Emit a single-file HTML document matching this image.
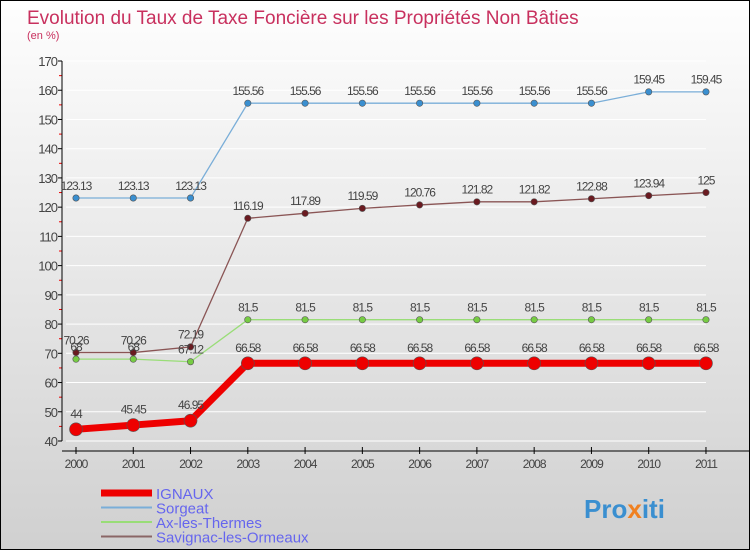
<!DOCTYPE html>
<html><head><meta charset="utf-8"><style>
body{margin:0;width:750px;height:550px;overflow:hidden;font-family:"Liberation Sans",sans-serif}
#c{position:absolute;left:0;top:0;width:748px;height:548px;border:1px solid #000;background:linear-gradient(#fefefe,#d0d0d0)}
</style></head><body>
<div id="c">
<svg width="748" height="548" style="position:absolute;left:0;top:0">
<text x="26" y="23" font-size="19" fill="#c8305e">Evolution du Taux de Taxe Foncière sur les Propriétés Non Bâties</text>
<text x="26" y="38" font-size="11" fill="#c8305e">(en %)</text>
<g id="axes"></g><g id="series"></g><g id="legend"></g>
<text x="583" y="517" font-size="26" font-weight="bold" fill="#3a8fd0">Pro<tspan fill="#f08020">x</tspan>iti</text>
</svg></div>
<script>
const years=["2000","2001","2002","2003","2004","2005","2006","2007","2008","2009","2010","2011"];
const yTicks=[40,50,60,70,80,90,100,110,120,130,140,150,160,170];
const ignaux=[44,45.45,46.95,66.58,66.58,66.58,66.58,66.58,66.58,66.58,66.58,66.58];
const sorgeat=[123.13,123.13,123.13,155.56,155.56,155.56,155.56,155.56,155.56,155.56,159.45,159.45];
const ax=[68,68,67.12,81.5,81.5,81.5,81.5,81.5,81.5,81.5,81.5,81.5];
const savignac=[70.26,70.26,72.19,116.19,117.89,119.59,120.76,121.82,121.82,122.88,123.94,125];
const NS="http://www.w3.org/2000/svg";
const X=i=>75+i*57.27, Y=v=>440-(v-40)*(380/130);
function mk(t,a,p){const e=document.createElementNS(NS,t);for(const k in a)e.setAttribute(k,a[k]);p.appendChild(e);return e;}
const axes=document.getElementById('axes');
yTicks.forEach(v=>{const y=Y(v);
 const g=mk('line',{x1:65,x2:705,y1:y,y2:y,stroke:'#fff','stroke-width':1},axes);
 
 mk('line',{x1:57,x2:61,y1:y,y2:y,stroke:'#000'},axes);
 if(v<170)mk('line',{x1:58,x2:61,y1:y-14.6,y2:y-14.6,stroke:'#e00'},axes);
 const t=mk('text',{x:56,y:y+5,'text-anchor':'end','font-size':13,fill:'#444','letter-spacing':'-1'},axes);t.textContent=v;
 });
mk('line',{x1:61,x2:61,y1:60,y2:440,stroke:'#000'},axes);
mk('line',{x1:61,x2:748,y1:450,y2:450,stroke:'#000'},axes);
years.forEach((yr,i)=>{mk('line',{x1:X(i),x2:X(i),y1:446,y2:453,stroke:'#000'},axes);
 const t=mk('text',{x:X(i),y:467,'text-anchor':'middle','font-size':12,fill:'#444','letter-spacing':'-1'},axes);t.textContent=yr;
 });
const ser=document.getElementById('series');
function draw(name,d,col,dot,w,r){
 const g=mk('g',{},ser);
 mk('polyline',{points:d.map((v,i)=>X(i)+','+Y(v)).join(' '),fill:'none',stroke:col,'stroke-width':w},g);
 d.forEach((v,i)=>{const c=mk('circle',{cx:X(i),cy:Y(v),r:r,fill:dot,stroke:'#555','stroke-width':0.6},g);
 
 const t=mk('text',{x:X(i),y:Y(v)-r-5,'text-anchor':'middle','font-size':12,fill:'#444','letter-spacing':'-1'},g);t.textContent=v;});}
draw('sorgeat',sorgeat,'#7aaed8','#3a8fd0',1.3,3.2);
draw('savignac',savignac,'#8a5555','#6a1a20',1.3,3.2);
draw('ax-les-thermes',ax,'#99dd77','#77cc44',1.3,3.2);
draw('ignaux',ignaux,'#ee0000','#ee0000',7,6.5);
const lg=document.getElementById('legend');
[["IGNAUX",'#ee0000',7],["Sorgeat",'#7aaed8',2],["Ax-les-Thermes",'#99dd77',2],["Savignac-les-Ormeaux",'#8a6666',2]].forEach((e,i)=>{
 const y=492+i*14.5;
 const g=mk('g',{},lg);
 mk('line',{x1:100,x2:151,y1:y,y2:y,stroke:e[1],'stroke-width':e[2]},g);
 const t=mk('text',{x:155,y:y+6,'font-size':15,fill:'#6666ee'},g);t.textContent=e[0];});
</script></body></html>
